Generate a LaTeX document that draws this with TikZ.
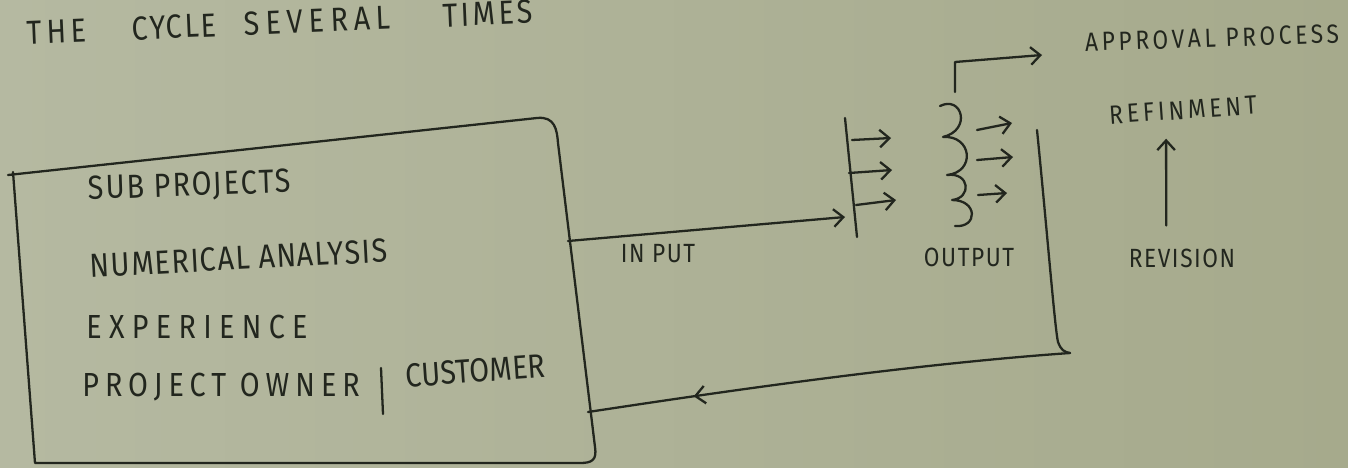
\documentclass[tikz,border=0pt]{standalone}
\usepackage{fontspec}
\usetikzlibrary{arrows.meta,decorations.markings}

% marker on a whiteboard: a plain sans, a little narrow and spaced out
\newfontfamily\marker[FakeStretch=0.86,LetterSpace=6]{Fira Sans}
% hand lettering spreads some words more than others
\newcommand\spread[2]{{\addfontfeature{LetterSpace=#1}#2}}
\definecolor{board}{RGB}{166,170,140}
\definecolor{boardlight}{RGB}{181,185,161}
\definecolor{ink}{RGB}{34,38,30}

\begin{document}
\begin{tikzpicture}[x=0.02cm,y=-0.02cm,
  pen/.style={ink,line width=1.3pt,line cap=round,line join=round},
  tip/.style={pen,-{Straight Barb[length=5.5pt,width=10pt]}},
  big/.style={ink,inner sep=0pt,anchor=west,font=\marker\fontsize{19}{20}\selectfont},
  small/.style={ink,inner sep=0pt,font=\marker\fontsize{15}{16}\selectfont}]

% the board itself, one pixel = one unit, y running down
\useasboundingbox (0,0) rectangle (1348,467);
\fill[left color=boardlight,right color=board] (0,0) rectangle (1348,467);

% heading, written uphill right up to the top edge
\node[big,rotate=2.4] (cycle) at (27,33)
  {\spread{14}{THE}\hspace{26pt}CYCLE\hspace{16pt}\spread{18}{SEVERAL}\hspace{30pt}\spread{10}{TIMES}};

% the input box, top edge sloping up to the right
\draw[pen] (8,175) -- (537,118) .. controls (555,116) and (557,130) .. (558,143)
  -- (595,447) .. controls (597,460) and (592,463) .. (580,463)
  -- (35,463) -- (13,172);
\node[big,rotate=2] (sub) at (88,190) {SUB PROJECTS};
\node[big,rotate=3] (num) at (90,266) {\spread{4}{NUMERICAL ANALYSIS}};
\node[big] (exp) at (86,327) {\spread{22}{EXPERIENCE}};
\node[big] (owner) at (82,387) {\spread{18}{PROJECT OWNER}};
\node[big,rotate=4] (cust) at (405,376) {\spread{1}{CUSTOMER}};
\draw[pen] (381,368) -- (383,414);

% input goes into the comb on the left
\coordinate (boxin) at (568,241);
\coordinate (bartop) at (845,118);
\coordinate (barbot) at (857,237);
\coordinate (barhit) at (845,217);
\draw[pen] (bartop) -- (barbot);
\draw[tip] (boxin) -- (barhit);
\node[small] (input) at (658,254) {IN PUT};

\draw[tip] (852,140) -- (891,138);
\draw[tip] (849,173) -- (892,170);
\draw[tip] (856,205) -- (896,200);

% the coil: two threes stacked
\draw[pen] (940,106) .. controls (962,95) and (972,130) .. (943,137)
  .. controls (972,135) and (976,172) .. (947,175)
  .. controls (970,172) and (972,198) .. (952,200)
  .. controls (978,200) and (978,228) .. (955,226);
\draw[tip] (977,130) -- (1012,123);
\draw[tip] (977,160) -- (1013,157);
\draw[tip] (978,195) -- (1007,193);
\node[small] (output) at (969,257) {OUTPUT};

% out to approval
\coordinate (coiltop) at (955,92);
\coordinate (bend) at (955,62);
\coordinate (apptip) at (1042,55);
\draw[tip] (coiltop) -- (bend) -- (apptip);
\node[small,rotate=2] (approval) at (1212,38) {\spread{14}{APPROVAL PROCESS}};

% revision feeds refinement
\node[small,rotate=4] (refine) at (1183,110) {\spread{15}{REFINMENT}};
\node[small] (revision) at (1182,258) {REVISION};
\draw[tip] ([xshift=-9pt,yshift=13pt]revision.north) -- ([xshift=-10pt,yshift=-11pt]refine.south);

% and back round to the box
\coordinate (rtop) at (1037,130);
\coordinate (rbot) at (1070,353);
\coordinate (boxret) at (588,412);
\draw[pen] (rtop) .. controls (1047,230) and (1055,330) .. (1058,342)
  .. controls (1061,350) and (1064,352) .. (rbot);
\draw[pen,postaction={decorate},decoration={markings,
    mark=at position 0.78 with {\arrow{Straight Barb[length=5.5pt,width=10pt]}}}]
  (rbot) .. controls (900,365) and (700,395) .. (boxret);
\end{tikzpicture}
\end{document}
